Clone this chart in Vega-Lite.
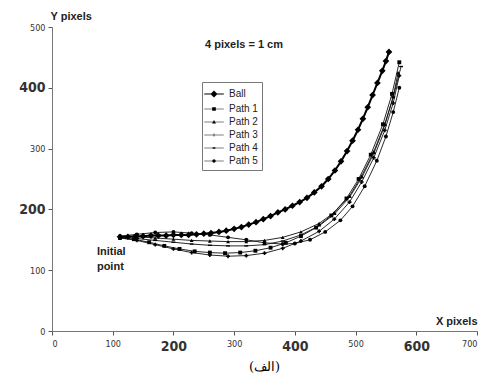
{
  "$schema": "https://vega.github.io/schema/vega-lite/v6.json",
  "width": 425,
  "height": 304,
  "autosize": {"type": "none"},
  "padding": {"left": 52, "top": 27, "right": 9, "bottom": 50},
  "background": "white",
  "config": {"view": {"stroke": null}, "font": "Liberation Sans"},
  "title": {"text": "(الف)", "orient": "bottom", "anchor": "middle", "font": "DejaVu Serif", "fontSize": 13, "fontWeight": "normal", "color": "#000", "offset": 8},
  "resolve": {"scale": {"shape": "independent"}, "legend": {"shape": "independent"}},
  "datasets": {
    "pts": [
      {"series": "Ball", "x": 112, "y": 155}, {"series": "Ball", "x": 125, "y": 155}, {"series": "Ball", "x": 138, "y": 156}, {"series": "Ball", "x": 150, "y": 156}, {"series": "Ball", "x": 163, "y": 157}, {"series": "Ball", "x": 175, "y": 157}, {"series": "Ball", "x": 188, "y": 157}, {"series": "Ball", "x": 200, "y": 158}, {"series": "Ball", "x": 213, "y": 158}, {"series": "Ball", "x": 225, "y": 158}, {"series": "Ball", "x": 238, "y": 159}, {"series": "Ball", "x": 250, "y": 160}, {"series": "Ball", "x": 262, "y": 161}, {"series": "Ball", "x": 275, "y": 163}, {"series": "Ball", "x": 287, "y": 165}, {"series": "Ball", "x": 300, "y": 168}, {"series": "Ball", "x": 312, "y": 171}, {"series": "Ball", "x": 324, "y": 175}, {"series": "Ball", "x": 336, "y": 179}, {"series": "Ball", "x": 348, "y": 184}, {"series": "Ball", "x": 360, "y": 189}, {"series": "Ball", "x": 372, "y": 195}, {"series": "Ball", "x": 384, "y": 200}, {"series": "Ball", "x": 396, "y": 206}, {"series": "Ball", "x": 408, "y": 212}, {"series": "Ball", "x": 420, "y": 219}, {"series": "Ball", "x": 432, "y": 228}, {"series": "Ball", "x": 444, "y": 238}, {"series": "Ball", "x": 455, "y": 250}, {"series": "Ball", "x": 466, "y": 264}, {"series": "Ball", "x": 476, "y": 279}, {"series": "Ball", "x": 486, "y": 296}, {"series": "Ball", "x": 495, "y": 313}, {"series": "Ball", "x": 504, "y": 331}, {"series": "Ball", "x": 512, "y": 349}, {"series": "Ball", "x": 520, "y": 368}, {"series": "Ball", "x": 528, "y": 388}, {"series": "Ball", "x": 536, "y": 408}, {"series": "Ball", "x": 544, "y": 428}, {"series": "Ball", "x": 550, "y": 444}, {"series": "Ball", "x": 555, "y": 459},

      {"series": "Path 1", "x": 112, "y": 153}, {"series": "Path 1", "x": 135, "y": 151}, {"series": "Path 1", "x": 160, "y": 146}, {"series": "Path 1", "x": 185, "y": 140}, {"series": "Path 1", "x": 210, "y": 135}, {"series": "Path 1", "x": 235, "y": 131}, {"series": "Path 1", "x": 260, "y": 129}, {"series": "Path 1", "x": 285, "y": 128}, {"series": "Path 1", "x": 310, "y": 129}, {"series": "Path 1", "x": 335, "y": 132}, {"series": "Path 1", "x": 360, "y": 137}, {"series": "Path 1", "x": 385, "y": 145}, {"series": "Path 1", "x": 410, "y": 156}, {"series": "Path 1", "x": 435, "y": 170}, {"series": "Path 1", "x": 460, "y": 190}, {"series": "Path 1", "x": 485, "y": 218}, {"series": "Path 1", "x": 505, "y": 250}, {"series": "Path 1", "x": 525, "y": 290}, {"series": "Path 1", "x": 545, "y": 340}, {"series": "Path 1", "x": 560, "y": 390}, {"series": "Path 1", "x": 572, "y": 442},

      {"series": "Path 2", "x": 112, "y": 155}, {"series": "Path 2", "x": 140, "y": 155}, {"series": "Path 2", "x": 170, "y": 153}, {"series": "Path 2", "x": 200, "y": 151}, {"series": "Path 2", "x": 230, "y": 149}, {"series": "Path 2", "x": 260, "y": 148}, {"series": "Path 2", "x": 290, "y": 147}, {"series": "Path 2", "x": 320, "y": 147}, {"series": "Path 2", "x": 350, "y": 149}, {"series": "Path 2", "x": 380, "y": 154}, {"series": "Path 2", "x": 410, "y": 163}, {"series": "Path 2", "x": 440, "y": 177}, {"series": "Path 2", "x": 465, "y": 195}, {"series": "Path 2", "x": 490, "y": 222}, {"series": "Path 2", "x": 510, "y": 255}, {"series": "Path 2", "x": 530, "y": 295}, {"series": "Path 2", "x": 548, "y": 340}, {"series": "Path 2", "x": 562, "y": 385}, {"series": "Path 2", "x": 570, "y": 425},

      {"series": "Path 3", "x": 112, "y": 153}, {"series": "Path 3", "x": 140, "y": 149}, {"series": "Path 3", "x": 170, "y": 142}, {"series": "Path 3", "x": 200, "y": 135}, {"series": "Path 3", "x": 230, "y": 129}, {"series": "Path 3", "x": 260, "y": 125}, {"series": "Path 3", "x": 290, "y": 123}, {"series": "Path 3", "x": 320, "y": 124}, {"series": "Path 3", "x": 350, "y": 128}, {"series": "Path 3", "x": 380, "y": 136}, {"series": "Path 3", "x": 410, "y": 148}, {"series": "Path 3", "x": 440, "y": 164}, {"series": "Path 3", "x": 465, "y": 184}, {"series": "Path 3", "x": 490, "y": 212}, {"series": "Path 3", "x": 510, "y": 245}, {"series": "Path 3", "x": 530, "y": 285}, {"series": "Path 3", "x": 548, "y": 330}, {"series": "Path 3", "x": 562, "y": 375}, {"series": "Path 3", "x": 572, "y": 420},

      {"series": "Path 4", "x": 112, "y": 154}, {"series": "Path 4", "x": 140, "y": 152}, {"series": "Path 4", "x": 170, "y": 149}, {"series": "Path 4", "x": 200, "y": 146}, {"series": "Path 4", "x": 230, "y": 143}, {"series": "Path 4", "x": 260, "y": 141}, {"series": "Path 4", "x": 290, "y": 140}, {"series": "Path 4", "x": 320, "y": 140}, {"series": "Path 4", "x": 350, "y": 142}, {"series": "Path 4", "x": 380, "y": 148}, {"series": "Path 4", "x": 410, "y": 158}, {"series": "Path 4", "x": 440, "y": 173}, {"series": "Path 4", "x": 465, "y": 192}, {"series": "Path 4", "x": 490, "y": 220}, {"series": "Path 4", "x": 510, "y": 252}, {"series": "Path 4", "x": 530, "y": 292}, {"series": "Path 4", "x": 548, "y": 338}, {"series": "Path 4", "x": 562, "y": 385}, {"series": "Path 4", "x": 575, "y": 435},

      {"series": "Path 5", "x": 112, "y": 156}, {"series": "Path 5", "x": 140, "y": 159}, {"series": "Path 5", "x": 170, "y": 162}, {"series": "Path 5", "x": 200, "y": 163}, {"series": "Path 5", "x": 230, "y": 161}, {"series": "Path 5", "x": 260, "y": 158}, {"series": "Path 5", "x": 290, "y": 154}, {"series": "Path 5", "x": 320, "y": 150}, {"series": "Path 5", "x": 350, "y": 145}, {"series": "Path 5", "x": 380, "y": 143}, {"series": "Path 5", "x": 400, "y": 144}, {"series": "Path 5", "x": 425, "y": 150}, {"series": "Path 5", "x": 450, "y": 163}, {"series": "Path 5", "x": 475, "y": 182}, {"series": "Path 5", "x": 495, "y": 205}, {"series": "Path 5", "x": 515, "y": 238}, {"series": "Path 5", "x": 535, "y": 280}, {"series": "Path 5", "x": 550, "y": 320}, {"series": "Path 5", "x": 562, "y": 360}, {"series": "Path 5", "x": 572, "y": 400}
    ],
    "notes": [
      {"x": 252, "y": 470, "text": "4 pixels = 1 cm"},
      {"x": 74, "y": 130, "text": "Initial"},
      {"x": 74, "y": 106, "text": "point"}
    ]
  },
  "layer": [
    {
      "data": {"name": "pts"},
      "transform": [{"filter": "datum.series != 'Ball'"}],
      "mark": {"type": "line", "color": "#111", "strokeWidth": 0.9},
      "encoding": {
        "x": {"field": "x", "type": "quantitative", "scale": {"domain": [0, 700]},
          "axis": {"values": [0, 100, 200, 300, 400, 500, 600, 700], "grid": false, "title": "X pixels", "titleX": 425, "titleY": -5, "titleAlign": "right", "titleBaseline": "bottom", "titleFontSize": 11, "titleFontWeight": "bold", "titleColor": "#222", "domainColor": "#777", "tickColor": "#555", "tickSize": 4, "labelColor": "#333", "labelFont": "DejaVu Sans Condensed", "labelPadding": 4,
            "labelFontSize": {"expr": "datum.value == 200 || datum.value == 400 || datum.value == 600 ? 14 : 9"},
            "labelFontWeight": {"expr": "datum.value == 200 || datum.value == 400 || datum.value == 600 ? 'bold' : 'normal'"}}},
        "y": {"field": "y", "type": "quantitative", "scale": {"domain": [0, 500]},
          "axis": {"values": [0, 50, 100, 150, 200, 250, 300, 350, 400, 450, 500], "grid": false, "title": "Y pixels", "titleX": -2, "titleY": -6, "titleAngle": 0, "titleAlign": "left", "titleBaseline": "bottom", "titleFontSize": 11, "titleFontWeight": "bold", "titleColor": "#222", "domainColor": "#777", "tickColor": "#555", "tickSize": 4, "labelColor": "#333", "labelFont": "DejaVu Sans Condensed", "labelPadding": 3,
            "labelFontSize": {"expr": "datum.value == 200 || datum.value == 400 ? 14 : 9"},
            "labelFontWeight": {"expr": "datum.value == 200 || datum.value == 400 ? 'bold' : 'normal'"}}},
        "detail": {"field": "series"}
      }
    },
    {
      "data": {"name": "pts"},
      "transform": [{"filter": "datum.series == 'Ball'"}],
      "mark": {"type": "line", "color": "#000", "strokeWidth": 2},
      "encoding": {
        "x": {"field": "x", "type": "quantitative"},
        "y": {"field": "y", "type": "quantitative"}
      }
    },
    {
      "data": {"name": "pts"},
      "transform": [{"filter": "datum.series == 'Ball'"}],
      "mark": {"type": "point", "filled": true, "color": "#000", "opacity": 1, "size": 45},
      "encoding": {
        "x": {"field": "x", "type": "quantitative"},
        "y": {"field": "y", "type": "quantitative"},
        "shape": {"field": "series", "type": "nominal",
          "scale": {"domain": ["Ball", "Path 1", "Path 2", "Path 3", "Path 4", "Path 5"], "range": ["diamond", "square", "triangle-up", "cross", "M-1,-0.35H1V0.35H-1Z", "circle"]},
          "legend": null}
      }
    },
    {
      "data": {"name": "pts"},
      "transform": [{"filter": "datum.series != 'Ball'"}],
      "mark": {"type": "point", "filled": true, "color": "#000", "opacity": 1, "size": 15},
      "encoding": {
        "x": {"field": "x", "type": "quantitative"},
        "y": {"field": "y", "type": "quantitative"},
        "shape": {"field": "series", "type": "nominal",
          "scale": {"domain": ["Ball", "Path 1", "Path 2", "Path 3", "Path 4", "Path 5"], "range": ["diamond", "square", "triangle-up", "cross", "M-1,-0.35H1V0.35H-1Z", "circle"]},
          "legend": null}
      }
    },
    {
      "data": {"name": "pts"},
      "transform": [{"filter": "false"}],
      "mark": {"type": "point", "filled": true, "color": "#000", "opacity": 1},
      "encoding": {
        "x": {"field": "x", "type": "quantitative"},
        "y": {"field": "y", "type": "quantitative"},
        "shape": {"field": "series", "type": "nominal",
          "scale": {"domain": ["Ball", "Path 1", "Path 2", "Path 3", "Path 4", "Path 5"], "range": [
            "M-1.4,-0.08H1.4V0.08H-1.4ZM0,-0.5L0.5,0L0,0.5L-0.5,0Z",
            "M-1.4,-0.045H1.4V0.045H-1.4ZM-0.26,-0.26H0.26V0.26H-0.26Z",
            "M-1.4,-0.045H1.4V0.045H-1.4ZM0,-0.3L0.28,0.2H-0.28Z",
            "M-1.4,-0.045H1.4V0.045H-1.4ZM-0.045,-0.2H0.045V0.2H-0.045Z",
            "M-1.4,-0.045H1.4V0.045H-1.4ZM-0.2,-0.1H0.2V0.1H-0.2Z",
            "M-1.4,-0.045H1.4V0.045H-1.4ZM0.24,0A0.24,0.24,0,1,1,-0.24,0A0.24,0.24,0,1,1,0.24,0Z"]},
          "legend": {"title": null, "orient": "none", "legendX": 150, "legendY": 55, "padding": 4, "strokeColor": "#777", "fillColor": "white", "labelFontSize": 10, "labelColor": "#222", "rowPadding": 0, "symbolSize": 196, "symbolFillColor": "#000", "symbolOpacity": 1, "labelOffset": 7}
        }
      }
    },
    {
      "data": {"name": "notes"},
      "mark": {"type": "text", "fontWeight": "bold", "fontSize": 11, "align": "left", "baseline": "middle", "color": "#222"},
      "encoding": {
        "x": {"field": "x", "type": "quantitative"},
        "y": {"field": "y", "type": "quantitative"},
        "text": {"field": "text"}
      }
    }
  ]
}
